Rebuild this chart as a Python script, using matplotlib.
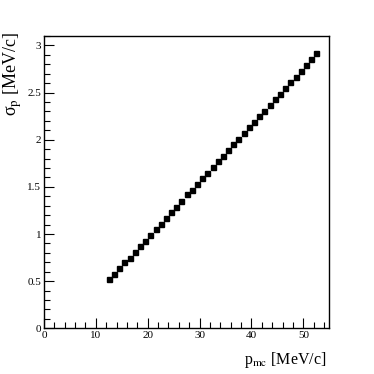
import numpy as np
import matplotlib
matplotlib.use("Agg")
import matplotlib.pyplot as plt
from matplotlib.ticker import MultipleLocator

plt.rcParams["font.family"] = ["Liberation Serif", "DejaVu Serif"]
plt.rcParams["mathtext.fontset"] = "stix"

p_mc = [12.5, 13.5, 14.5, 15.5, 16.5, 17.5, 18.5, 19.5, 20.5, 21.5,
        22.5, 23.5, 24.5, 25.5, 26.5, 27.5, 28.5, 29.5, 30.5, 31.5,
        32.5, 33.5, 34.5, 35.5, 36.5, 37.5, 38.5, 39.5, 40.5, 41.5,
        42.5, 43.5, 44.5, 45.5, 46.5, 47.5, 48.5, 49.5, 50.5, 51.5, 52.5]
sigma_p = [0.52, 0.58, 0.64, 0.70, 0.75, 0.81, 0.87, 0.93, 0.99, 1.05,
           1.11, 1.17, 1.23, 1.29, 1.35, 1.42, 1.47, 1.53, 1.59, 1.65,
           1.71, 1.77, 1.83, 1.89, 1.95, 2.01, 2.07, 2.13, 2.19, 2.25,
           2.31, 2.37, 2.43, 2.49, 2.55, 2.61, 2.67, 2.73, 2.79, 2.86, 2.92]
x_ticks = [0, 10, 20, 30, 40, 50]
y_ticks = [0, 0.5, 1, 1.5, 2, 2.5, 3]
y_tick_labels = ["0", "0.5", "1", "1.5", "2", "2.5", "3"]

fig = plt.figure(figsize=(3.74, 3.74), dpi=100)
ax = fig.add_axes([0.1176, 0.1222, 0.7628, 0.7815])
ax.plot(p_mc, sigma_p, ls="none", marker="s", ms=3.6, color="black")

ax.set_xlim(0, 55)
ax.set_ylim(0, 3.1)
ax.xaxis.set_minor_locator(MultipleLocator(2))
ax.yaxis.set_minor_locator(MultipleLocator(0.1))
ax.set_xticks(x_ticks)
ax.set_xticklabels([str(t) for t in x_ticks])
ax.set_yticks(y_ticks)
ax.set_yticklabels(y_tick_labels)
ax.tick_params(which="both", direction="in", top=False, right=False,
               labelsize=8, width=0.8, pad=2)
ax.tick_params(which="major", length=7.5)
ax.tick_params(which="minor", length=4)
for s in ax.spines.values():
    s.set_linewidth(1.0)

fig.text(0.874, 0.027, r"p$_{\mathrm{mc}}$ [MeV/c]", ha="right", va="baseline", fontsize=11.5)
fig.text(0.035, 0.914, r"σ$_{\mathrm{p}}$ [MeV/c]", ha="center", va="top",
         rotation=90, fontsize=13)

fig.savefig("out.png", dpi=100)
